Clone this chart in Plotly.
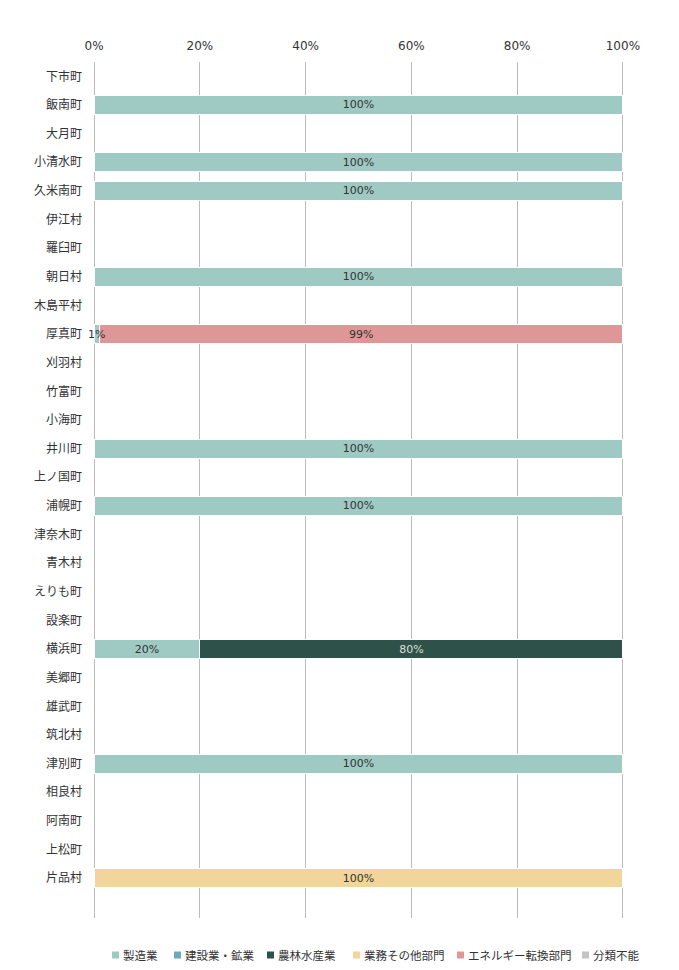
import plotly.graph_objects as go

categories = ["下市町", "飯南町", "大月町", "小清水町", "久米南町", "伊江村", "羅臼町", "朝日村",
              "木島平村", "厚真町", "刈羽村", "竹富町", "小海町", "井川町", "上ノ国町", "浦幌町",
              "津奈木町", "青木村", "えりも町", "設楽町", "横浜町", "美郷町", "雄武町", "筑北村",
              "津別町", "相良村", "阿南町", "上松町", "片品村"]

manufacturing = {"飯南町": 100, "小清水町": 100, "久米南町": 100, "朝日村": 100, "厚真町": 1,
                 "井川町": 100, "浦幌町": 100, "横浜町": 20, "津別町": 100}
construction = {}
agriculture = {"横浜町": 80}
business = {"片品村": 100}
energy = {"厚真町": 99}
unclassified = {}

series_names = ["製造業", "建設業・鉱業", "農林水産業", "業務その他部門", "エネルギー転換部門", "分類不能"]
series_data = [manufacturing, construction, agriculture, business, energy, unclassified]
series_colors = ["#9FCAC3", "#6FA8B6", "#2E5249", "#F1D59B", "#DE9696", "#C4C4C4"]
text_colors = ["#333333", "#333333", "#DDDDDD", "#333333", "#333333", "#333333"]

FONT = "DejaVu Sans, Noto Sans CJK JP, sans-serif"
CJK = "Noto Sans CJK JP, sans-serif"
W, H = 679, 970
ML, MR, MT, MB = 92, 54, 62, 52
PW, PH = W - ML - MR, H - MT - MB

fig = go.Figure()
annotations = []
for i, (name, data, color, tcolor) in enumerate(zip(series_names, series_data, series_colors, text_colors)):
    xs = [data[c] / 100 if c in data else None for c in categories]
    texts = [f"{data[c]}%" if (c in data and data[c] >= 5) else "" for c in categories]
    fig.add_trace(go.Bar(
        y=categories, x=xs, name=name, orientation="h",
        marker=dict(color=color, line=dict(color="white", width=1)),
        text=texts, textposition="inside", insidetextanchor="middle",
        textangle=0, constraintext="none",
        insidetextfont=dict(color=tcolor, size=11, family=FONT),
        hoverinfo="skip", showlegend=False,
    ))
    # small segments: label centred on the segment, allowed to overflow
    for c in categories:
        if c in data and data[c] < 5:
            start = sum(d.get(c, 0) for d in series_data[:i])
            annotations.append(dict(x=(start + data[c] / 2) / 100, y=c, xref="x", yref="y",
                                    text=f"{data[c]}%", showarrow=False,
                                    font=dict(size=11, color=tcolor, family=FONT)))

# custom legend (one row, right aligned under the plot)
legend_px = [112, 174, 267, 353, 457, 582]
legend_y_px = 955
shapes = []
yc = (H - MB - legend_y_px) / PH
for px, name, color in zip(legend_px, series_names, series_colors):
    shapes.append(dict(type="rect", xref="paper", yref="paper",
                       x0=(px - ML) / PW, x1=(px + 7 - ML) / PW,
                       y0=yc - 3.5 / PH, y1=yc + 3.5 / PH, fillcolor=color, line=dict(width=0)))
    annotations.append(dict(x=(px + 9 - ML) / PW, y=yc, xref="paper", yref="paper",
                            xanchor="left", yanchor="middle", text=name, showarrow=False,
                            font=dict(size=11.5, color="#333333", family=CJK)))

fig.update_layout(
    width=W, height=H,
    barmode="stack", bargap=0.33,
    plot_bgcolor="white", paper_bgcolor="white",
    margin=dict(l=ML, r=MR, t=MT, b=MB, autoexpand=False),
    font=dict(family=FONT, size=12, color="#333333"),
    showlegend=False,
    shapes=shapes,
    annotations=annotations,
    xaxis=dict(side="top", range=[-0.004, 1.004], tickvals=[0, 0.2, 0.4, 0.6, 0.8, 1.0],
               tickformat=".0%", showgrid=True, gridcolor="#BBBBBB", gridwidth=1,
               zeroline=True, zerolinecolor="#BBBBBB", zerolinewidth=1,
               showline=False, ticks="", tickfont=dict(size=12),
               ticklabelstandoff=9, automargin=False, fixedrange=True),
    yaxis=dict(categoryorder="array", categoryarray=categories,
               range=[len(categories) + 0.39, -0.5], showgrid=False, zeroline=False,
               ticks="", ticklabelstandoff=9, tickfont=dict(size=12, family=CJK),
               automargin=False, fixedrange=True),
)

fig.write_html("out.html", config={"displayModeBar": False},
               post_script="document.body.style.margin='0';")
